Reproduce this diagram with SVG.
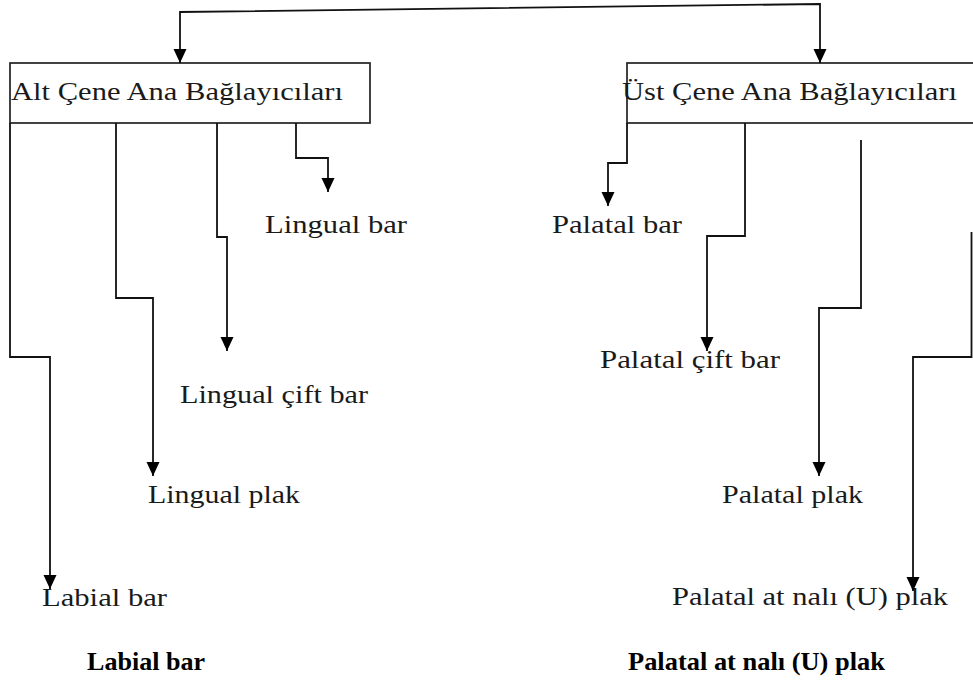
<svg xmlns="http://www.w3.org/2000/svg" width="973" height="682" viewBox="0 0 973 682">
<style>
.bx{fill:#fff;stroke:#222;stroke-width:1.7}
.c{fill:none;stroke:#111;stroke-width:1.8;marker-end:url(#ah)}
.t{font-family:"Liberation Serif","Times New Roman",serif;font-size:26px;fill:#1a1a1a}
.b{font-family:"Liberation Serif","Times New Roman",serif;font-size:26px;font-weight:bold;fill:#000}
</style>
<defs>
<marker id="ah" markerUnits="userSpaceOnUse" viewBox="0 0 14 14" refX="14" refY="7" markerWidth="14" markerHeight="14" orient="auto-start-reverse">
<path d="M0,0.5 L14,7 L0,13.5 z" fill="#000"/>
</marker>
</defs>
<rect width="973" height="682" fill="#fff"/>
<g id="alt">
<rect class="bx" x="10" y="63" width="360" height="60"/>
<text class="t" x="11" y="100" textLength="332" lengthAdjust="spacingAndGlyphs">Alt Çene Ana Bağlayıcıları</text>
</g>
<g id="ust">
<rect class="bx" x="627" y="63" width="360" height="60"/>
<text class="t" x="622" y="100" textLength="335" lengthAdjust="spacingAndGlyphs">Üst Çene Ana Bağlayıcıları</text>
</g>
<g id="lingual-bar"><text class="t" x="265" y="233" textLength="142" lengthAdjust="spacingAndGlyphs">Lingual bar</text></g>
<g id="lingual-cift-bar"><text class="t" x="180" y="403" textLength="188" lengthAdjust="spacingAndGlyphs">Lingual çift bar</text></g>
<g id="lingual-plak"><text class="t" x="148" y="503" textLength="152" lengthAdjust="spacingAndGlyphs">Lingual plak</text></g>
<g id="labial-bar"><text class="t" x="42" y="606" textLength="125" lengthAdjust="spacingAndGlyphs">Labial bar</text></g>
<g id="palatal-bar"><text class="t" x="552" y="233" textLength="130" lengthAdjust="spacingAndGlyphs">Palatal bar</text></g>
<g id="palatal-cift-bar"><text class="t" x="600" y="368" textLength="180" lengthAdjust="spacingAndGlyphs">Palatal çift bar</text></g>
<g id="palatal-plak"><text class="t" x="722" y="503" textLength="141" lengthAdjust="spacingAndGlyphs">Palatal plak</text></g>
<g id="palatal-at-nali"><text class="t" x="672" y="605" textLength="276" lengthAdjust="spacingAndGlyphs">Palatal at nalı (U) plak</text></g>
<g id="caption-left"><text class="b" x="87" y="670" textLength="118" lengthAdjust="spacingAndGlyphs">Labial bar</text></g>
<g id="caption-right"><text class="b" x="628" y="670" textLength="257" lengthAdjust="spacingAndGlyphs">Palatal at nalı (U) plak</text></g>
<g id="connectors">
<path class="c" style="marker-start:url(#ah)" d="M180,63 L180,12 L820,4 L820,63"/>
<path class="c" d="M10,123 V357 H50 V589"/>
<path class="c" d="M116,123 V298 H153 V476"/>
<path class="c" d="M217,123 V237 H227 V351"/>
<path class="c" d="M296,123 V158 H328 V192"/>
<path class="c" d="M627,123 V163 H608 V206"/>
<path class="c" d="M745,123 V236 H707 V351"/>
<path class="c" d="M861,140 V308 H819 V476"/>
<path class="c" d="M971.5,232 V357 H913 V591"/>
</g>
</svg>
